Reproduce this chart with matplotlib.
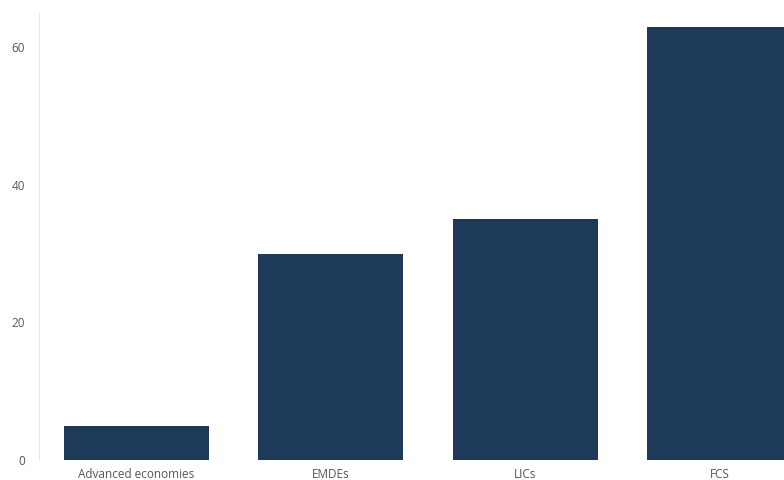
import matplotlib.pyplot as plt

# Datos
categorias = ["Advanced economies", "EMDEs", "LICs", "FCS"]
valores = [5, 30, 35, 63]
yticks = [0, 20, 40, 60]

plt.rcParams['font.family'] = ['Open Sans', 'DejaVu Sans']

fig = plt.figure(figsize=(7.84, 4.8), dpi=100)
ax = fig.add_axes([39 / 784, 20 / 480, 745 / 784, 447 / 480])

ax.bar(range(len(categorias)), valores, width=0.745, color="#1d3a58")

ax.set_xlim(-0.5, -0.5 + 745 / 194.5)
ax.set_ylim(0, 65)
ax.set_xticks(range(len(categorias)))
ax.set_xticklabels(categorias)
ax.set_yticks(yticks)

ax.tick_params(axis="both", length=0, labelsize=8.5, labelcolor="#555555")
ax.tick_params(axis="x", pad=6)
ax.tick_params(axis="y", pad=10)

for lado in ["top", "right", "bottom"]:
    ax.spines[lado].set_visible(False)
ax.spines["left"].set_color("#e6e6e6")

fig.savefig("out.png", dpi=100)
